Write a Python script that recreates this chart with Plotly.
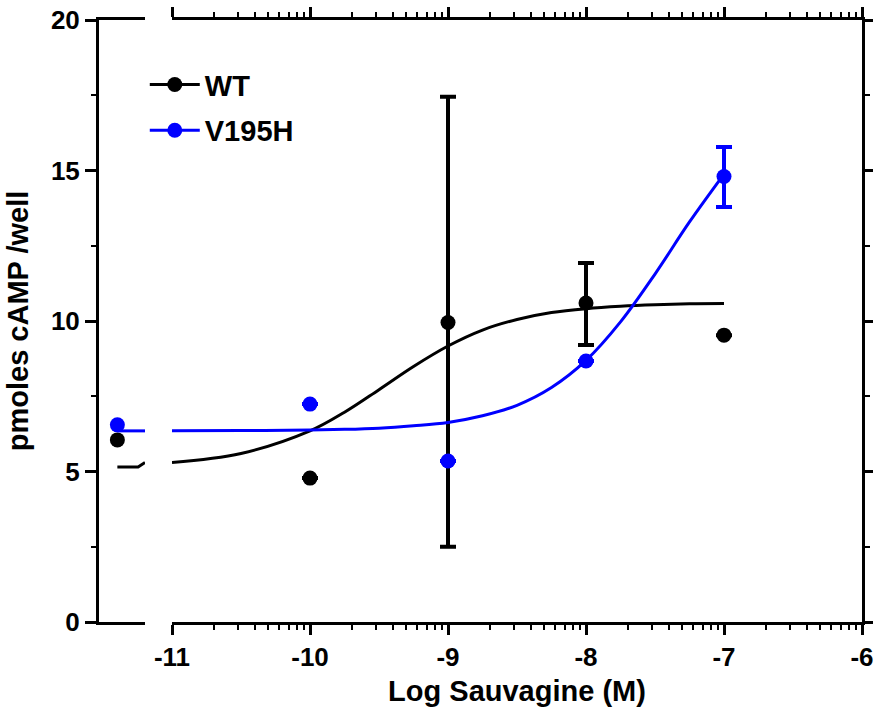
import numpy as np
import plotly.graph_objects as go

# ---------------- data ----------------
conc_ctrl = [-11.4]                     # basal (no agonist), shown left of the axis break
conc = [-10, -9, -8, -7]                # log [Sauvagine] (M)

wt_ctrl = [6.05]
wt_vals = [4.78, 9.95, 10.6, 9.53]
wt_err_plus = [0, 7.5, 1.33, 0]
wt_err_minus = [0, 7.45, 1.4, 0]

v_ctrl = [6.55]
v_vals = [7.24, 5.35, 8.67, 14.8]
v_err_plus = [0, 0, 0, 0.98]
v_err_minus = [0, 0, 0, 1.01]

# fitted curves
curve_left_x = [-11.4, -11.25, -11.2]
wt_curve_left = [5.15, 5.15, 5.3]
v_curve_left = [6.35, 6.35, 6.35]

curve_x = [-11.0, -10.5, -10.0, -9.75, -9.5, -9.25, -9.0, -8.75, -8.5,
           -8.25, -8.0, -7.75, -7.5, -7.25, -7.0]
wt_curve = [5.30, 5.60, 6.35, 6.97, 7.72, 8.49, 9.17, 9.70, 10.05,
            10.28, 10.41, 10.49, 10.54, 10.57, 10.58]
v_curve = [6.35, 6.36, 6.38, 6.40, 6.44, 6.52, 6.63, 6.85, 7.20,
           7.79, 8.69, 9.97, 11.56, 13.29, 14.88]

x_ticks = [-11, -10, -9, -8, -7, -6]
x_tick_labels = ["-11", "-10", "-9", "-8", "-7", "-6"]
y_ticks = [0, 5, 10, 15, 20]

series = [("WT", "#000000", wt_ctrl, wt_vals, wt_err_plus, wt_err_minus, wt_curve_left, wt_curve),
          ("V195H", "#0000FF", v_ctrl, v_vals, v_err_plus, v_err_minus, v_curve_left, v_curve)]

# ---------------- figure ----------------
W, H = 874, 715
L, R, T, B = 99, 12, 20, 93
plot_w = W - L - R
left_dom = [0, 46 / plot_w]
right_dom = [73 / plot_w, 1]

FONT = "Liberation Sans, Arial, sans-serif"
fig = go.Figure()

for i, (name, col, ctrl, vals, ep, em, cl, cv) in enumerate(series):
    fig.add_trace(go.Scatter(x=curve_left_x, y=cl, mode="lines", line=dict(color=col, width=3),
                             xaxis="x", yaxis="y", showlegend=False, hoverinfo="skip"))
    fig.add_trace(go.Scatter(x=conc_ctrl, y=ctrl, mode="markers",
                             marker=dict(color=col, size=15), xaxis="x", yaxis="y", showlegend=False))
    fig.add_trace(go.Scatter(x=curve_x, y=cv, mode="lines", line=dict(color=col, width=3, shape="spline"),
                             xaxis="x2", yaxis="y2", showlegend=False, hoverinfo="skip"))
    fig.add_trace(go.Scatter(x=conc, y=vals, mode="markers",
                             marker=dict(color=col, size=15),
                             error_y=dict(type="data", array=ep, arrayminus=em, symmetric=False,
                                          color=col, thickness=4, width=8),
                             xaxis="x2", yaxis="y2", showlegend=False))
    fig.add_trace(go.Scatter(x=[None], y=[None], mode="lines+markers", name=name,
                             line=dict(color=col, width=3), marker=dict(color=col, size=15),
                             xaxis="x2", yaxis="y2", legendgroup=name, showlegend=True))

minor_x = [d + np.log10(k) for d in range(-11, -6) for k in range(2, 10)]

axis_common = dict(showgrid=False, zeroline=False, showline=True, linewidth=3, linecolor="black",
                   tickcolor="black", tickwidth=3, automargin=False, ticklabeloverflow="allow",
                   tickfont=dict(family=FONT, size=26, color="black", weight="bold"))

title_font = dict(family=FONT, size=29, color="black", weight="bold")

fig.update_layout(
    width=W, height=H, margin=dict(l=L, r=R, t=T, b=B),
    paper_bgcolor="white", plot_bgcolor="white",
    font=dict(family=FONT, color="black"),
    xaxis=dict(domain=left_dom, range=[-11.533, -11.2], anchor="y", mirror=True,
               ticks="", showticklabels=False, **axis_common),
    xaxis2=dict(domain=right_dom, range=[-11, -6], anchor="y2", mirror="ticks",
                tickmode="array", tickvals=x_ticks, ticktext=x_tick_labels,
                ticks="outside", ticklen=10,
                minor=dict(tickmode="array", tickvals=minor_x, ticks="outside", ticklen=5,
                           tickwidth=2, tickcolor="black"),
                title=dict(text="Log Sauvagine (M)", standoff=10, font=title_font),
                **axis_common),
    yaxis=dict(domain=[0, 1], range=[0, 20], anchor="x", tickmode="array", tickvals=y_ticks,
               ticks="outside", ticklen=11,
               minor=dict(dtick=2.5, ticks="outside", ticklen=5, tickwidth=2, tickcolor="black"),
               title=dict(text="pmoles cAMP /well", standoff=14, font=title_font),
               **axis_common),
    yaxis2=dict(domain=[0, 1], matches="y", range=[0, 20], anchor="x2", side="right",
                tickmode="array", tickvals=y_ticks, ticks="outside", ticklen=8,
                showticklabels=False,
                minor=dict(dtick=2.5, ticks="outside", ticklen=5, tickwidth=2, tickcolor="black"),
                **axis_common),
    legend=dict(x=0.06, y=0.935, xanchor="left", yanchor="top", bgcolor="rgba(0,0,0,0)",
                font=dict(family=FONT, size=29, color="black", weight="bold"),
                tracegroupgap=5, itemwidth=50),
    showlegend=True,
)

fig.write_html("out.html",
               config={"displayModeBar": False},
               post_script="document.body.style.margin='0';document.body.style.overflow='hidden';")
